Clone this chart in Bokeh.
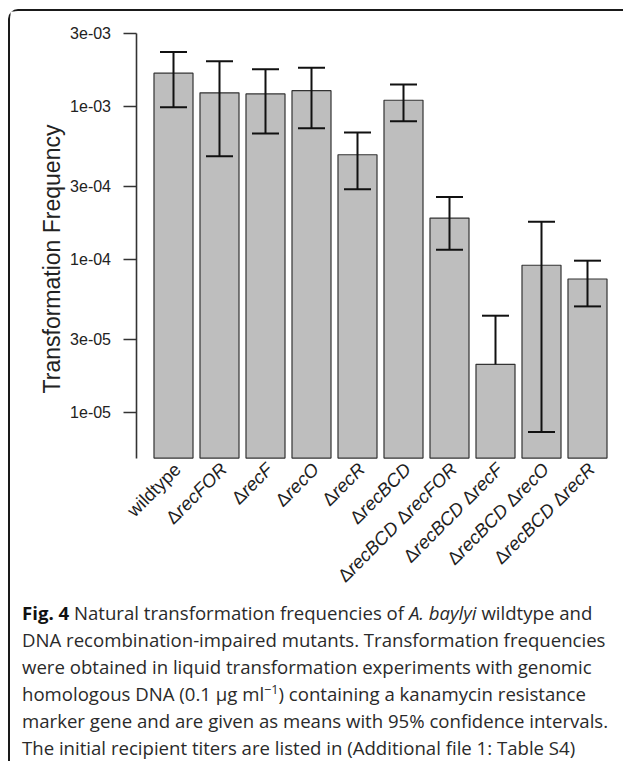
import math
import numpy as np
from bokeh.plotting import figure
from bokeh.models import Range1d, FixedTicker, Div
from bokeh.core.properties import value
from bokeh.layouts import column
from bokeh.embed import file_html
from bokeh.resources import INLINE

# ---------------- data ----------------
# each category label as (upright part, italic part) pieces
categories = [
    [("wildtype", "")],
    [("Δ", "recFOR")],
    [("Δ", "recF")],
    [("Δ", "recO")],
    [("Δ", "recR")],
    [("Δ", "recBCD")],
    [("Δ", "recBCD "), ("Δ", "recFOR")],
    [("Δ", "recBCD "), ("Δ", "recF")],
    [("Δ", "recBCD "), ("Δ", "recO")],
    [("Δ", "recBCD "), ("Δ", "recR")],
]
means = [1.64e-3, 1.22e-3, 1.20e-3, 1.26e-3, 4.80e-4, 1.09e-3, 1.85e-4, 2.05e-5, 9.1e-5, 7.4e-5]
ci_upper = [2.25e-3, 1.96e-3, 1.74e-3, 1.78e-3, 6.7e-4, 1.38e-3, 2.54e-4, 4.26e-5, 1.75e-4, 9.75e-5]
ci_lower = [9.8e-4, 4.7e-4, 6.6e-4, 7.15e-4, 2.86e-4, 7.95e-4, 1.15e-4, float("nan"), 7.4e-6, 4.9e-5]
y_ticks = [1e-5, 3e-5, 1e-4, 3e-4, 1e-3, 3e-3]
y_tick_labels = ["1e-05", "3e-05", "1e-04", "3e-04", "1e-03", "3e-03"]
y_title = "Transformation Frequency"
caption_html = (
    "<b style='color:#111'>Fig. 4</b> Natural transformation frequencies of <i>A. baylyi</i> wildtype and<br>"
    "DNA recombination-impaired mutants. Transformation frequencies<br>"
    "were obtained in liquid transformation experiments with genomic<br>"
    "homologous DNA (0.1 μg ml<sup style='font-size:68%;line-height:0'>−1</sup>) containing a kanamycin resistance<br>"
    "marker gene and are given as means with 95% confidence intervals.<br>"
    "The initial recipient titers are listed in (Additional file 1: Table S4)"
)

# ---------------- layout constants (pixels) ----------------
Y_MIN, Y_MAX = 5e-6, 3e-3          # axis extent
FIG_LEFT, FIG_TOP = 10.5, 11.5     # page position of the figure
FIG_W, FIG_H = 613, 588
PX_PER_CAT = 46.0                  # px per category step
PX_PER_DEC = 153.0                 # px per decade
X0_PAGE = 173.5                    # page x of first bar centre
YREF_PAGE, YREF_VAL = 106.0, 1e-3  # page y of 1e-03
AXIS_PAGE_X = 136.0

x_start = (FIG_LEFT - X0_PAGE) / PX_PER_CAT
x_end = x_start + FIG_W / PX_PER_CAT
y_top = YREF_VAL * 10 ** ((YREF_PAGE - FIG_TOP) / PX_PER_DEC)
y_bot = YREF_VAL * 10 ** (-(FIG_TOP + FIG_H - YREF_PAGE) / PX_PER_DEC)
axis_x = (AXIS_PAGE_X - X0_PAGE) / PX_PER_CAT

idx = np.arange(len(means))

p = figure(width=FIG_W, height=FIG_H, y_axis_type="log",
           x_range=Range1d(x_start, x_end), y_range=Range1d(y_bot, y_top),
           output_backend="svg", toolbar_location=None, min_border=0)
p.margin = 0
p.outline_line_color = None
p.grid.visible = False
p.xaxis.visible = False
p.border_fill_color = None

ya = p.yaxis[0]
ya.fixed_location = axis_x
ya.bounds = (Y_MIN, Y_MAX)
ya.ticker = FixedTicker(ticks=y_ticks, minor_ticks=[])
ya.major_label_overrides = dict(zip(y_ticks, y_tick_labels))
ya.axis_line_color = "#333333"
ya.axis_line_width = 1.6
ya.major_tick_line_color = "#333333"
ya.major_tick_line_width = 1.6
ya.major_tick_out = 13
ya.major_tick_in = 0
ya.minor_tick_line_color = None
ya.major_label_standoff = 12
ya.major_label_text_font = "Liberation Sans"
ya.major_label_text_font_size = "16px"
ya.major_label_text_color = "#222222"

p.vbar(x=idx, top=means, bottom=Y_MIN, width=0.848,
       fill_color="#bebebe", line_color="#333333", line_width=1.2)

lo_line = [m if math.isnan(l) else l for m, l in zip(means, ci_lower)]
p.segment(x0=idx, y0=lo_line, x1=idx, y1=ci_upper, line_color="#111111", line_width=2)
p.scatter(x=idx, y=ci_upper, marker="dash", size=27, line_color="#111111", line_width=2)
p.scatter(x=idx, y=ci_lower, marker="dash", size=27, line_color="#111111", line_width=2)

# y title
p.text(x=[axis_x], y=[1e-4], text=[y_title], angle=math.pi / 2, x_offset=-84,
       text_align="center", text_baseline="alphabetic",
       text_font=value("Liberation Sans"), text_font_size=value("23px"),
       text_color="#222222")

# rotated category labels (Δ upright, gene names italic)
WID = {"Δ": 0.668, "r": 0.333, "e": 0.556, "c": 0.5, "B": 0.667, "C": 0.722,
       "D": 0.722, "F": 0.611, "O": 0.778, "R": 0.722, " ": 0.278, "w": 0.722,
       "i": 0.222, "l": 0.222, "d": 0.556, "t": 0.278, "y": 0.5, "p": 0.556}
FS = 18.5
c45 = math.cos(math.pi / 4)
pieces = {"normal": dict(x=[], y=[], text=[], xo=[], yo=[]),
          "italic": dict(x=[], y=[], text=[], xo=[], yo=[])}
for i, segs in enumerate(categories):
    flat = []
    for up, it in segs:
        if up:
            flat.append((up, "normal"))
        if it:
            flat.append((it, "italic"))
    back = 0.0
    for txt, style in reversed(flat):
        d = pieces[style]
        d["x"].append(i)
        d["y"].append(Y_MIN)
        d["text"].append(txt)
        d["xo"].append(4 - back * c45)
        d["yo"].append(8 + back * c45)
        back += sum(WID.get(ch, 0.55) for ch in txt) * FS
for style, d in pieces.items():
    p.text(x=d["x"], y=d["y"], text=d["text"], x_offset=d["xo"], y_offset=d["yo"],
           angle=math.pi / 4, text_align="right", text_baseline="middle",
           text_font=value("Liberation Sans"), text_font_style=style,
           text_font_size=value(f"{FS}px"), text_color="#1e1e1e")

caption = Div(text=caption_html, width=FIG_W, height=162, margin=0,
              styles={"font-family": "'Open Sans'", "font-size": "18.6px", "line-height": "27px",
                      "color": "#2a2a2a", "white-space": "nowrap", "padding-left": "12px",
                      "overflow": "hidden"})

layout = column(p, caption, margin=(9, 0, 0, 8),
                styles={"border-left": "2.5px solid #1a1a1a", "border-top": "2.5px solid #1a1a1a",
                        "border-top-left-radius": "10px"})

open("out.html", "w").write(file_html(layout, INLINE))
